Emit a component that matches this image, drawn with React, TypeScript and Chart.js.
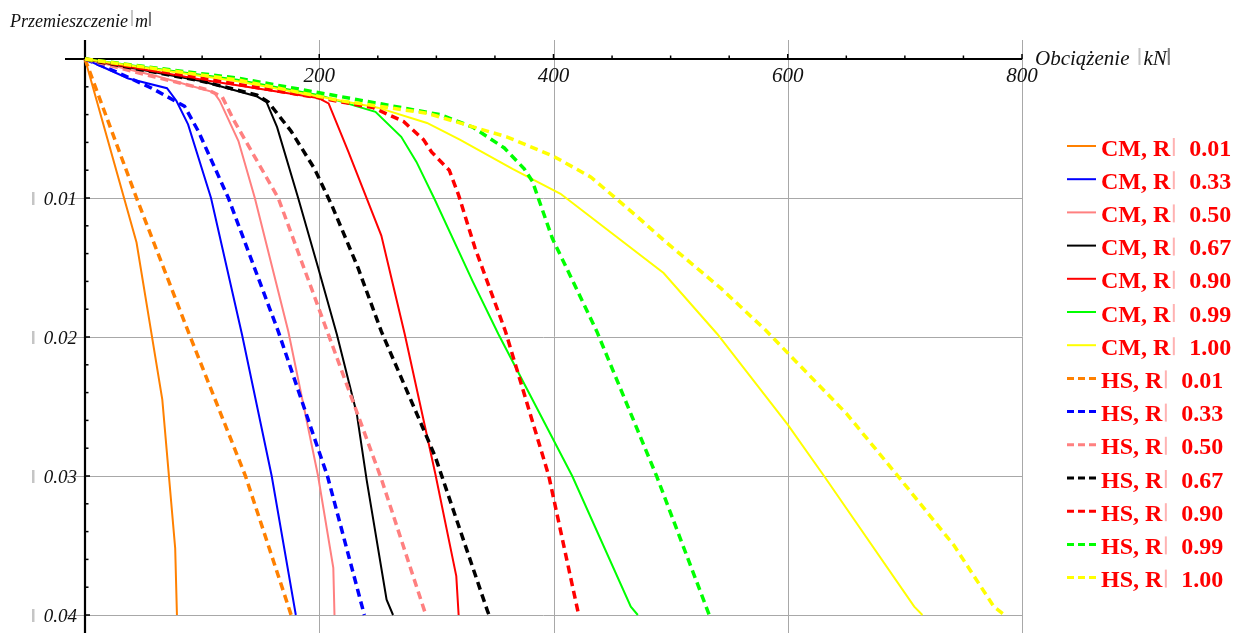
import React, { useEffect, useRef } from 'react';
import { Chart, registerables } from 'chart.js';

Chart.register(...registerables);

// ---- Data (load [kN], displacement [m]) ----
const ratioLabels = ['0.01', '0.33', '0.50', '0.67', '0.90', '0.99', '1.00'];
const seriesColors = ['#FF8000', '#0000FF', '#FF8080', '#000000', '#FF0000', '#00FF00', '#FFFF00'];

const cm001 = [[0, 0], [44, 0.0132], [66, 0.0245], [77, 0.0352], [78.5, 0.04]];
const cm033 = [[0, 0], [37, 0.0014], [70, 0.0021], [78, 0.003], [88, 0.0047], [107.6, 0.01], [134, 0.0198], [159.4, 0.03], [180, 0.04]];
const cm050 = [[0, 0], [60, 0.0012], [110, 0.0024], [115, 0.003], [131, 0.0059], [145, 0.01], [173.6, 0.0196], [199, 0.03], [212, 0.0366], [213, 0.04]];
const cm067 = [[0, 0], [100, 0.0016], [147, 0.0027], [155, 0.0031], [164, 0.0049], [182, 0.01], [199, 0.015], [215, 0.0198], [232, 0.0255], [240.5, 0.0303], [257.5, 0.0389], [263, 0.04]];
const cm090 = [[0, 0], [100, 0.0015], [199, 0.0028], [208, 0.0032], [225, 0.0067], [253, 0.0127], [273, 0.0198], [299, 0.0298], [317, 0.0372], [319, 0.04]];
const cm099 = [[0, 0], [130, 0.0015], [200, 0.0026], [248, 0.0038], [270, 0.0056], [283, 0.0074], [298, 0.01], [331, 0.016], [353, 0.0198], [416, 0.03], [466, 0.0394], [472, 0.04]];
const cm100 = [[0, 0], [130, 0.0016], [200, 0.0027], [250, 0.0035], [292, 0.0046], [320, 0.0058], [365, 0.0079], [406, 0.0097], [494, 0.0154], [540, 0.0198], [600, 0.0263], [631, 0.03], [708, 0.0394], [715, 0.04]];

const hs001 = [[0, 0], [22, 0.005], [44, 0.01], [89, 0.0198], [137, 0.03], [162, 0.0364], [176, 0.04]];
const hs033 = [[0, 0], [26, 0.0009], [57, 0.0021], [70, 0.0027], [85, 0.0034], [96.8, 0.0052], [122.4, 0.01], [165, 0.0196], [196.4, 0.0274], [207, 0.03], [238.5, 0.04]];
const hs050 = [[0, 0], [60, 0.0013], [104, 0.0022], [117, 0.0027], [127, 0.0044], [165, 0.01], [207.7, 0.0198], [253, 0.0302], [291, 0.04]];
const hs067 = [[0, 0], [100, 0.0016], [147, 0.0026], [156.5, 0.0031], [176, 0.0052], [196, 0.0079], [210.6, 0.0105], [233, 0.015], [253, 0.0196], [299, 0.0286], [344, 0.0398], [345, 0.04]];
const hs090 = [[0, 0], [100, 0.0014], [200, 0.0028], [246, 0.0035], [272, 0.0045], [289, 0.0058], [296, 0.0067], [311, 0.008], [319, 0.0098], [333, 0.0136], [359, 0.0196], [396, 0.03], [421.5, 0.04]];
const hs099 = [[0, 0], [132, 0.0014], [218, 0.0027], [303, 0.004], [331, 0.0049], [358, 0.0064], [375, 0.0079], [382, 0.0088], [399, 0.0129], [437, 0.0196], [488, 0.03], [533, 0.04]];
const hs100 = [[0, 0], [130, 0.0015], [218, 0.003], [292, 0.0039], [360, 0.0056], [400, 0.007], [432, 0.0085], [471, 0.0113], [495, 0.0131], [543, 0.0165], [581, 0.0195], [650, 0.0255], [694, 0.03], [742, 0.035], [776, 0.0394], [785, 0.04]];

const cmSeries = [cm001, cm033, cm050, cm067, cm090, cm099, cm100];
const hsSeries = [hs001, hs033, hs050, hs067, hs090, hs099, hs100];

const xTicks = [200, 400, 600, 800];
const xTickLabels = ['200', '400', '600', '800'];
const yTicks = [0.01, 0.02, 0.03, 0.04];
const yTickLabels = ['0.01', '0.02', '0.03', '0.04'];
const xMinorStep = 50;
const yMinorStep = 0.002;

const xTitle = 'Obciążenie';
const xUnit = 'kN';
const yTitle = 'Przemieszczenie';
const yUnit = 'm';

const decorPlugin = {
  id: 'decor',
  beforeDatasetsDraw(chart: any) {
    const { ctx } = chart;
    const xs = chart.scales.x;
    const ys = chart.scales.y;
    const x0 = xs.getPixelForValue(0);
    const y0 = ys.getPixelForValue(0);
    const xEnd = xs.getPixelForValue(800);
    const H = chart.height;
    const line = (a: number, b: number, c: number, d: number) => {
      ctx.beginPath();
      ctx.moveTo(a, b);
      ctx.lineTo(c, d);
      ctx.stroke();
    };
    ctx.save();
    ctx.strokeStyle = '#a8a8a8';
    ctx.lineWidth = 1;
    xTicks.forEach((v) => {
      const px = Math.round(xs.getPixelForValue(v)) + 0.5;
      line(px, y0 - 19, px, H);
    });
    yTicks.forEach((v) => {
      const py = Math.round(ys.getPixelForValue(v)) + 0.5;
      line(x0 - 20, py, xEnd, py);
    });
    ctx.strokeStyle = '#000';
    ctx.lineWidth = 1.5;
    for (let v = xMinorStep; v <= 800 + 1e-9; v += xMinorStep) {
      const px = xs.getPixelForValue(v);
      const major = Math.abs(v % 200) < 1e-6;
      line(px, y0, px, y0 - (major ? 5 : 3.5));
    }
    for (let k = 1; k * yMinorStep <= 0.0405; k++) {
      const v = k * yMinorStep;
      const py = ys.getPixelForValue(v);
      const major = k % 5 === 0;
      line(x0, py, x0 + (major ? 5 : 3.5), py);
    }
    ctx.lineWidth = 2.2;
    line(x0 - 20, y0, xEnd, y0);
    line(x0, y0 - 19, x0, H);
    ctx.restore();
  },
  afterDraw(chart: any) {
    const { ctx } = chart;
    const xs = chart.scales.x;
    const ys = chart.scales.y;
    const y0 = ys.getPixelForValue(0);
    const x0 = xs.getPixelForValue(0);
    ctx.save();
    ctx.fillStyle = '#111';
    ctx.font = 'italic 21px "Liberation Serif"';
    ctx.textAlign = 'center';
    ctx.textBaseline = 'alphabetic';
    xTicks.forEach((v, i) => {
      ctx.fillText(xTickLabels[i], xs.getPixelForValue(v), y0 + 23);
    });
    ctx.font = 'italic 19px "Liberation Serif"';
    ctx.textAlign = 'right';
    yTicks.forEach((v, i) => {
      const py = ys.getPixelForValue(v);
      ctx.fillStyle = '#111';
      ctx.fillText(yTickLabels[i], x0 - 8, py + 7);
      ctx.fillStyle = 'rgba(150,150,150,0.55)';
      ctx.fillRect(32, py - 6, 2.5, 13);
    });
    ctx.textAlign = 'left';
    ctx.fillStyle = '#111';
    ctx.font = 'italic 18px "Liberation Serif"';
    let tx = 10;
    ctx.fillText(yTitle, tx, 27);
    tx += ctx.measureText(yTitle).width + 3;
    ctx.fillStyle = 'rgba(150,150,150,0.55)';
    ctx.fillRect(tx, 10, 2, 16);
    tx += 4;
    ctx.fillStyle = '#111';
    ctx.fillText(yUnit, tx, 27);
    tx += ctx.measureText(yUnit).width + 1;
    ctx.fillStyle = 'rgba(90,90,90,0.8)';
    ctx.fillRect(tx, 12, 2, 14);

    ctx.font = 'italic 21px "Liberation Serif"';
    ctx.fillStyle = '#111';
    tx = 1035;
    ctx.fillText(xTitle, tx, 65);
    tx += ctx.measureText(xTitle).width + 9;
    ctx.fillStyle = 'rgba(150,150,150,0.55)';
    ctx.fillRect(tx, 48, 2, 17);
    tx += 5;
    ctx.fillStyle = '#111';
    ctx.fillText(xUnit, tx, 65);
    tx += ctx.measureText(xUnit).width + 1;
    ctx.fillStyle = 'rgba(90,90,90,0.8)';
    ctx.fillRect(tx, 48, 2, 17);

    ctx.font = 'bold 24px "Liberation Serif"';
    chart.data.datasets.forEach((ds: any, i: number) => {
      const ly = 146 + i * 33.2;
      const dashed = ds.borderDash && ds.borderDash.length;
      ctx.save();
      ctx.strokeStyle = ds.borderColor;
      ctx.lineWidth = dashed ? 3 : 2;
      ctx.setLineDash(dashed ? [7, 4] : []);
      ctx.beginPath();
      ctx.moveTo(1067, ly);
      ctx.lineTo(1096, ly);
      ctx.stroke();
      ctx.restore();
      const [prefix, value] = ds.label.split(' = ');
      ctx.fillStyle = '#FF0000';
      ctx.fillText(prefix, 1101, ly + 9.5);
      const w = ctx.measureText(prefix).width;
      ctx.fillStyle = 'rgba(255,0,0,0.3)';
      ctx.fillRect(1101 + w + 2.5, ly - 8, 2, 18);
      ctx.fillStyle = '#FF0000';
      ctx.fillText(value, 1101 + w + 19, ly + 9.5);
    });
    ctx.restore();
  },
};

export default function App() {
  const ref = useRef<HTMLCanvasElement | null>(null);
  useEffect(() => {
    if (!ref.current) return;
    const toPts = (arr: number[][]) => arr.map(([x, y]) => ({ x, y }));
    const datasets: any[] = [];
    cmSeries.forEach((s, i) => {
      datasets.push({
        label: 'CM, R = ' + ratioLabels[i],
        data: toPts(s),
        borderColor: seriesColors[i],
        borderWidth: 2,
        borderDash: [],
      });
    });
    hsSeries.forEach((s, i) => {
      datasets.push({
        label: 'HS, R = ' + ratioLabels[i],
        data: toPts(s),
        borderColor: seriesColors[i],
        borderWidth: 3.5,
        borderDash: [8, 5],
      });
    });
    const n = datasets.length;
    datasets.forEach((d, i) => {
      d.order = n - i;
      d.pointRadius = 0;
      d.tension = 0;
      d.fill = false;
      d.clip = false;
    });
    const chart = new Chart(ref.current, {
      type: 'line',
      data: { datasets },
      options: {
        animation: false,
        responsive: true,
        maintainAspectRatio: false,
        devicePixelRatio: 1,
        events: [],
        layout: { padding: { left: 85, right: 218, top: 59, bottom: 18 } },
        plugins: { legend: { display: false }, tooltip: { enabled: false } },
        scales: {
          x: { type: 'linear', min: 0, max: 800, display: false },
          y: { type: 'linear', min: 0, max: 0.04, reverse: true, display: false },
        },
      },
      plugins: [decorPlugin],
    });
    return () => chart.destroy();
  }, []);
  return (
    <div style={{ position: 'fixed', left: 0, top: 0, width: 1240, height: 633, background: '#fff' }}>
      <canvas ref={ref} />
    </div>
  );
}
